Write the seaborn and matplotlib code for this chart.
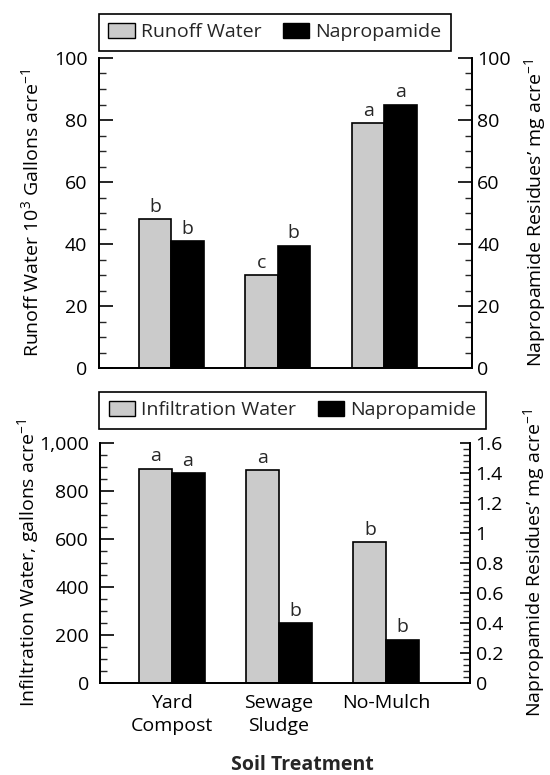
import matplotlib
matplotlib.use("Agg")
import matplotlib.pyplot as plt
from matplotlib.patches import Patch
from matplotlib.ticker import MultipleLocator, FuncFormatter
import numpy as np
import pandas as pd
import seaborn as sns

# ---- data -------------------------------------------------------------
treatments = ["Yard\nCompost", "Sewage\nSludge", "No-Mulch"]

runoff_water = [48, 30, 79]          # 10^3 gallons / acre
runoff_napropamide = [41, 39.5, 85]  # mg / acre
runoff_water_letters = ["b", "c", "a"]
runoff_nap_letters = ["b", "b", "a"]

infil_water = [895, 887, 588]        # gallons / acre
infil_napropamide = [1.40, 0.40, 0.29]  # mg / acre
infil_water_letters = ["a", "a", "b"]
infil_nap_letters = ["a", "b", "b"]

GRAY = "#cbcbcb"
BLACK = "#000000"
FONT = ["Open Sans", "DejaVu Sans"]
FS = 14

sns.set_theme(style="white")
plt.rcParams["font.family"] = FONT
plt.rcParams["mathtext.fontset"] = "custom"
plt.rcParams["mathtext.rm"] = "Open Sans"
plt.rcParams["mathtext.default"] = "regular"

fig = plt.figure(figsize=(5.5, 7.75), dpi=100)
ax_top = fig.add_axes([0.1791, 0.5248, 0.6785, 0.4004])
ax_bot = fig.add_axes([0.1818, 0.1183, 0.6727, 0.3097])


def panel(ax, water, nap, water_name, w_letters, n_letters,
          ylim_l, ylim_r, major_l, minor_l, major_r, minor_r,
          fmt_l, fmt_r, label_l, label_r, xlim, show_xticks,
          rlen, lab_l_x, lab_r_x):
    axr = ax.twinx()
    order = [water_name, "Napropamide"]
    pal = {water_name: GRAY, "Napropamide": BLACK}
    n = len(treatments)
    # each axis gets both series so the bars dodge; the other series is blank
    left_df = pd.DataFrame({
        "treatment": treatments * 2,
        "value": list(water) + [np.nan] * n,
        "series": [water_name] * n + ["Napropamide"] * n})
    right_df = pd.DataFrame({
        "treatment": treatments * 2,
        "value": [np.nan] * n + list(nap),
        "series": [water_name] * n + ["Napropamide"] * n})
    common = dict(x="treatment", y="value", hue="series", hue_order=order,
                  order=treatments, palette=pal, width=0.61, gap=0,
                  edgecolor="black", linewidth=1.2, legend=False, errorbar=None)
    sns.barplot(data=left_df, ax=ax, **common)
    sns.barplot(data=right_df, ax=axr, **common)

    for a, lim, maj, mnr, fmt in ((ax, ylim_l, major_l, minor_l, fmt_l),
                                  (axr, ylim_r, major_r, minor_r, fmt_r)):
        a.set_ylim(*lim)
        a.set_xlim(*xlim)
        a.yaxis.set_major_locator(MultipleLocator(maj))
        a.yaxis.set_minor_locator(MultipleLocator(mnr))
        a.yaxis.set_major_formatter(FuncFormatter(fmt))
        a.spines["top"].set_visible(False)
        for s in a.spines.values():
            s.set_color("black")
            s.set_linewidth(1.3)
        a.set_xlabel("")
    ax.tick_params(axis="y", which="major", direction="in", length=10, width=1.2,
                   labelsize=FS, colors="black", pad=8)
    ax.tick_params(axis="y", which="minor", direction="in", length=5, width=1.0,
                   left=True)
    axr.tick_params(axis="y", which="major", direction="in", length=rlen, width=1.2,
                    labelsize=FS, colors="black", pad=4)
    axr.tick_params(axis="y", which="minor", direction="in", length=5, width=1.0,
                    right=True)
    ax.tick_params(axis="x", length=0, labelsize=FS, colors="black", pad=8)
    axr.tick_params(axis="x", length=0)
    if not show_xticks:
        ax.set_xticklabels([])
    else:
        for lbl in ax.get_xticklabels():
            lbl.set_linespacing(1.3)
    ax.set_ylabel(label_l, fontsize=FS, color="black")
    axr.set_ylabel(label_r, fontsize=FS, color="black")
    ax.yaxis.set_label_coords(lab_l_x, 0.5)
    axr.yaxis.set_label_coords(lab_r_x, 0.5)

    # significance letters above each bar
    for i in range(n):
        ax.annotate(w_letters[i], (i - 0.15, water[i]), xytext=(0, 2.5),
                    textcoords="offset points", ha="center", va="bottom",
                    fontsize=FS)
        axr.annotate(n_letters[i], (i + 0.15, nap[i]), xytext=(0, 2.5),
                     textcoords="offset points", ha="center", va="bottom",
                     fontsize=FS)
    return axr


panel(ax_top, runoff_water, runoff_napropamide, "Runoff Water",
      runoff_water_letters, runoff_nap_letters,
      (0, 100), (0, 100), 20, 5, 20, 5,
      lambda v, p: f"{v:.0f}", lambda v, p: f"{v:.0f}",
      "Runoff Water 10$^3$ Gallons acre$^{-1}$",
      "Napropamide Residues\u2019 mg acre$^{-1}$",
      (-0.68, 2.818), False, 10, -0.150, 1.135)

panel(ax_bot, infil_water, infil_napropamide, "Infiltration Water",
      infil_water_letters, infil_nap_letters,
      (0, 1000), (0, 1.6), 200, 50, 0.2, 0.04,
      lambda v, p: f"{v:,.0f}", lambda v, p: f"{v:g}",
      "Infiltration Water, gallons acre$^{-1}$",
      "Napropamide Residues\u2019 mg acre$^{-1}$",
      (-0.673, 2.785), True, 7.5, -0.159, 1.139)


def legend(water_name, anchor):
    handles = [Patch(facecolor=GRAY, edgecolor="black", linewidth=1.0, label=water_name),
               Patch(facecolor=BLACK, edgecolor="black", linewidth=1.0, label="Napropamide")]
    leg = fig.legend(handles=handles, loc="lower left", bbox_to_anchor=anchor,
                     ncol=2, frameon=True, fancybox=False, fontsize=FS,
                     handlelength=1.36, handleheight=0.75, columnspacing=1.1,
                     handletextpad=0.32, borderpad=0.5, borderaxespad=0)
    fr = leg.get_frame()
    fr.set_edgecolor("black")
    fr.set_linewidth(1.2)
    fr.set_alpha(1)


legend("Runoff Water", (0.1791, 0.9342))
legend("Infiltration Water", (0.1800, 0.4465))

fig.text(0.549, 0.0068, "Soil Treatment", ha="center", va="baseline",
         fontsize=FS, fontweight="bold")

fig.savefig("out.png", dpi=100, facecolor="white")
